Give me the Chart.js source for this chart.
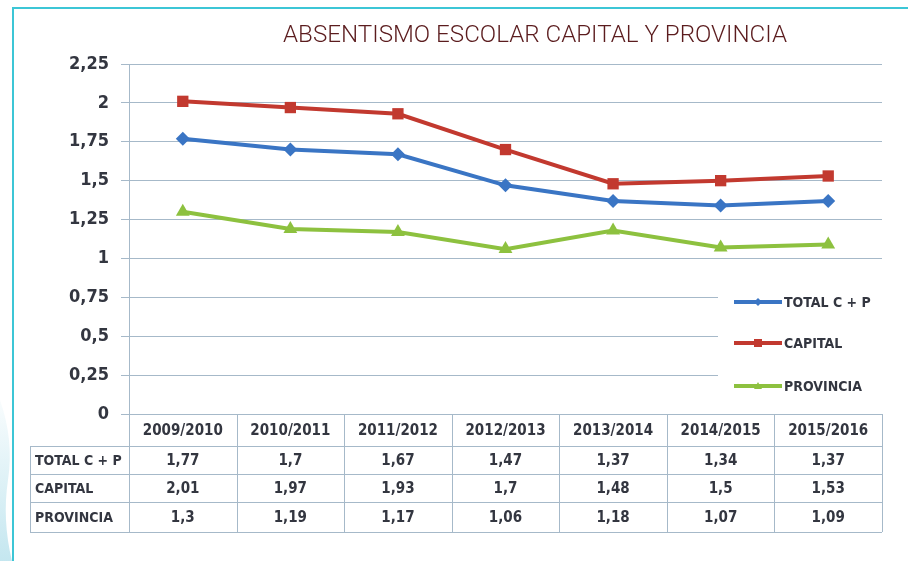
<!DOCTYPE html>
<html>
<head>
<meta charset="utf-8">
<script src="https://cdn.jsdelivr.net/npm/chart.js@4.4.1/dist/chart.umd.min.js"></script>
<style>
  html, body { margin: 0; padding: 0; background: #ffffff; }
  #wrap { width: 908px; height: 561px; position: relative; }
</style>
</head>
<body>
<div id="wrap"><canvas id="c" width="908" height="561"></canvas></div>
<script>
const title = "ABSENTISMO ESCOLAR CAPITAL Y PROVINCIA";
const categories = ["2009/2010", "2010/2011", "2011/2012", "2012/2013", "2013/2014", "2014/2015", "2015/2016"];
const seriesNames = ["TOTAL C + P", "CAPITAL", "PROVINCIA"];
const totalCP = [1.77, 1.70, 1.67, 1.47, 1.37, 1.34, 1.37];
const capital = [2.01, 1.97, 1.93, 1.70, 1.48, 1.50, 1.53];
const provincia = [1.30, 1.19, 1.17, 1.06, 1.18, 1.07, 1.09];
const yTicks = [0, 0.25, 0.5, 0.75, 1, 1.25, 1.5, 1.75, 2, 2.25];

const COLORS = ["#3a75c4", "#c2392f", "#8dc13f"];
const POINTS = ["rectRot", "rect", "triangle"];
const RADII = [7, 8, 8];
const FONT = "'Liberation Sans Narrow', 'DejaVu Sans Condensed', 'Liberation Sans', sans-serif";
const TITLE_FONT = "Roboto, 'Liberation Sans', sans-serif";
const GRID = "#a6b9c9";
const TEXT = "#333640";

const fmt = v => String(Math.round(v * 100) / 100).replace('.', ',');
const seriesData = [totalCP, capital, provincia];

const decoPlugin = {
  id: 'deco',
  beforeDraw(chart) {
    const ctx = chart.ctx;
    ctx.save();
    ctx.fillStyle = '#ffffff';
    ctx.fillRect(0, 0, chart.width, chart.height);
    // faint decorative swirl at bottom-left
    const g = ctx.createLinearGradient(0, 380, 0, 561);
    g.addColorStop(0, 'rgba(190,228,238,0)');
    g.addColorStop(1, 'rgba(190,228,238,0.9)');
    ctx.fillStyle = g;
    ctx.beginPath();
    ctx.moveTo(0, 400);
    ctx.quadraticCurveTo(14, 440, 8, 480);
    ctx.quadraticCurveTo(2, 520, 12, 561);
    ctx.lineTo(0, 561);
    ctx.closePath();
    ctx.fill();
    // cyan frame
    ctx.strokeStyle = '#3cc6d6';
    ctx.lineWidth = 2;
    ctx.beginPath();
    ctx.moveTo(13, 561);
    ctx.lineTo(13, 8);
    ctx.lineTo(908, 8);
    ctx.stroke();
    // title
    ctx.fillStyle = '#5b1c1e';
    ctx.font = "300 24px " + TITLE_FONT;
    ctx.textBaseline = 'alphabetic';
    const w = ctx.measureText(title).width;
    const target = 504;
    ctx.translate(283, 42);
    ctx.scale(target / w, 1);
    ctx.fillText(title, 0, 0);
    ctx.restore();
  },
  afterDraw(chart) {
    const ctx = chart.ctx;
    const xs = chart.scales.x;
    const area = chart.chartArea;
    const n = categories.length;
    const colW = (area.right - area.left) / n;
    ctx.save();
    // legend box
    ctx.fillStyle = '#ffffff';
    ctx.fillRect(718, 268, area.right - 718 + 1, 132);
    const legY = [302, 343, 386];
    for (let i = 0; i < 3; i++) {
      ctx.strokeStyle = COLORS[i];
      ctx.lineWidth = 4;
      ctx.beginPath();
      ctx.moveTo(734, legY[i]);
      ctx.lineTo(782, legY[i]);
      ctx.stroke();
      ctx.fillStyle = COLORS[i];
      const cx = 758, cy = legY[i];
      ctx.beginPath();
      if (i === 0) { ctx.moveTo(cx, cy - 4); ctx.lineTo(cx + 4, cy); ctx.lineTo(cx, cy + 4); ctx.lineTo(cx - 4, cy); }
      else if (i === 1) { ctx.rect(cx - 4, cy - 4, 8, 8); }
      else { ctx.moveTo(cx, cy - 4); ctx.lineTo(cx + 4, cy + 3); ctx.lineTo(cx - 4, cy + 3); }
      ctx.closePath();
      ctx.fill();
      ctx.fillStyle = TEXT;
      ctx.font = "bold 14px " + FONT;
      ctx.textBaseline = 'middle';
      ctx.textAlign = 'left';
      ctx.fillText(seriesNames[i], 784, legY[i] + 1);
    }
    // data table
    const top = area.bottom;
    const headBottom = 446;
    const rowBottoms = [474, 502, 532];
    const leftCol = 30;
    ctx.strokeStyle = GRID;
    ctx.lineWidth = 1;
    ctx.beginPath();
    for (let i = 0; i <= n; i++) {
      const x = Math.round(area.left + i * colW) + 0.5;
      ctx.moveTo(x, top);
      ctx.lineTo(x, rowBottoms[2]);
    }
    ctx.moveTo(leftCol + 0.5, headBottom);
    ctx.lineTo(leftCol + 0.5, rowBottoms[2]);
    ctx.moveTo(area.left, top + 0.5);
    ctx.lineTo(area.right, top + 0.5);
    ctx.moveTo(leftCol, headBottom + 0.5);
    ctx.lineTo(area.right, headBottom + 0.5);
    rowBottoms.forEach(y => { ctx.moveTo(leftCol, y + 0.5); ctx.lineTo(area.right, y + 0.5); });
    ctx.stroke();

    ctx.fillStyle = TEXT;
    ctx.font = "bold 15px " + FONT;
    ctx.textBaseline = 'middle';
    ctx.textAlign = 'center';
    categories.forEach((c, i) => {
      ctx.fillText(c, xs.getPixelForValue(i), (top + headBottom) / 2 + 1);
    });
    const rowTops = [headBottom, rowBottoms[0], rowBottoms[1]];
    for (let r = 0; r < 3; r++) {
      const cy = (rowTops[r] + rowBottoms[r]) / 2 + 1;
      ctx.textAlign = 'left';
      ctx.font = "bold 14px " + FONT;
      ctx.fillText(seriesNames[r], 35, cy);
      ctx.textAlign = 'center';
      ctx.font = "bold 15px " + FONT;
      seriesData[r].forEach((v, i) => {
        ctx.fillText(fmt(v), xs.getPixelForValue(i), cy);
      });
    }
    ctx.restore();
  }
};

new Chart(document.getElementById('c'), {
  type: 'line',
  data: {
    labels: categories,
    datasets: seriesData.map((d, i) => ({
      label: seriesNames[i],
      data: d,
      borderColor: COLORS[i],
      backgroundColor: COLORS[i],
      borderWidth: 4,
      pointStyle: POINTS[i],
      pointRadius: RADII[i],
      pointBorderWidth: 0,
      pointBackgroundColor: COLORS[i],
      tension: 0,
      fill: false
    }))
  },
  options: {
    responsive: false,
    animation: false,
    layout: { padding: { top: 64, right: 26, bottom: 147, left: 0 } },
    plugins: {
      legend: { display: false },
      title: { display: false },
      tooltip: { enabled: false }
    },
    scales: {
      x: {
        type: 'category',
        display: false,
        offset: true
      },
      y: {
        min: 0,
        max: 2.25,
        afterBuildTicks: s => { s.ticks = yTicks.map(v => ({ value: v })); },
        afterFit: s => { s.width = 129; },
        ticks: {
          callback: v => fmt(v),
          color: TEXT,
          padding: 12,
          font: { family: FONT, size: 18, weight: 'bold' }
        },
        grid: { color: GRID, lineWidth: 1, tickLength: 8 },
        border: { color: GRID, width: 1 }
      }
    }
  },
  plugins: [decoPlugin]
});
</script>
</body>
</html>
